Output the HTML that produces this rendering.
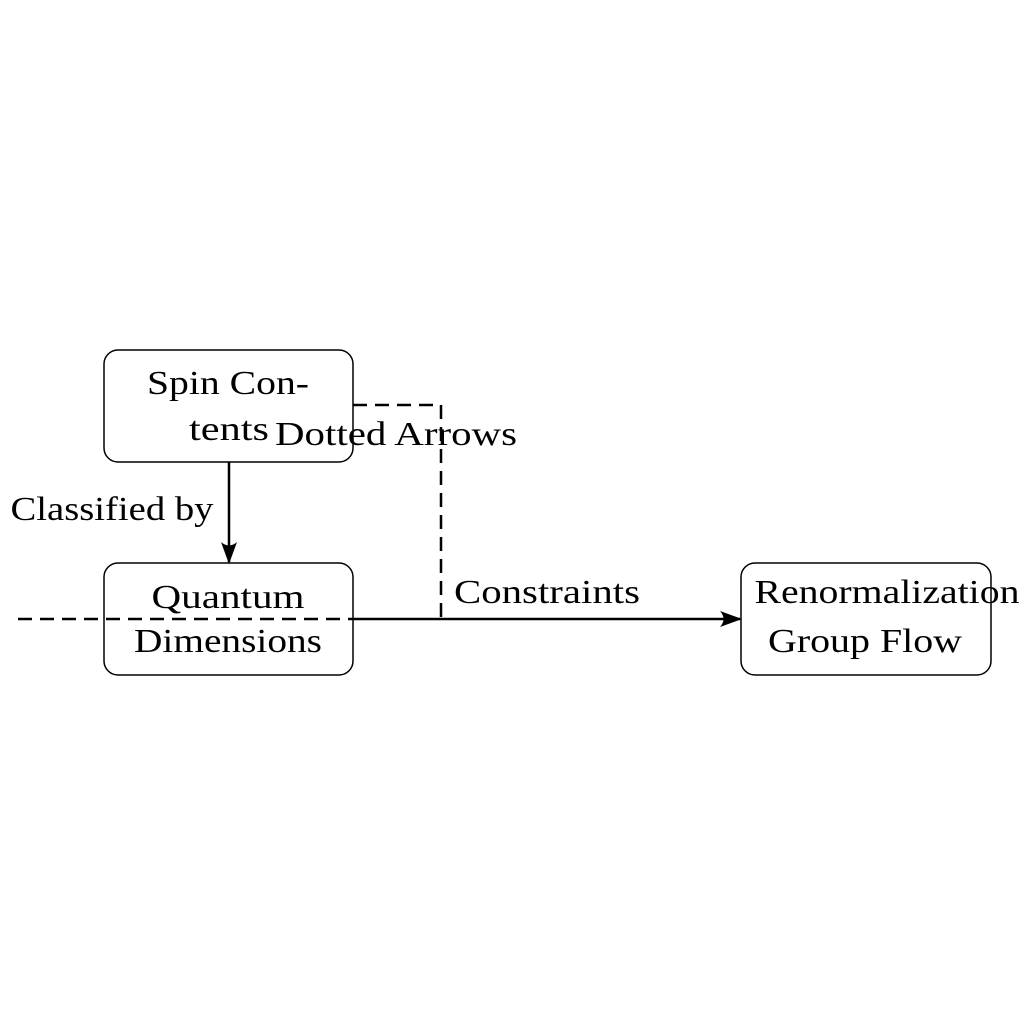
<!DOCTYPE html>
<html><head><meta charset="utf-8"><style>html,body{margin:0;padding:0;background:#fff}</style></head>
<body>
<svg width="1024" height="1024" viewBox="0 0 1024 1024" xmlns="http://www.w3.org/2000/svg" font-family="Liberation Serif, serif" font-size="34" fill="#000">
<defs>
<marker id="ah" viewBox="0 0 22 16" refX="20" refY="8" markerWidth="22" markerHeight="16" markerUnits="userSpaceOnUse" orient="auto">
<path d="M0,0 Q7,8 0,16 L22,8 Z" fill="#000"/>
</marker>
</defs>
<g fill="none" stroke="#000" stroke-width="1.5">
<rect x="104" y="350" width="249" height="112" rx="14"/>
<rect x="104" y="563" width="249" height="112" rx="14"/>
<rect x="741" y="563" width="250" height="112" rx="14"/>
</g>
<g fill="none" stroke="#000" stroke-width="2.5">
<line x1="229" y1="462" x2="229" y2="562" marker-end="url(#ah)"/>
<line x1="353" y1="619" x2="740" y2="619" marker-end="url(#ah)"/>
<line x1="18" y1="619" x2="353" y2="619" stroke-dasharray="14,8"/>
<polyline points="353,405 441,405 441,619" stroke-dasharray="14,8"/>
</g>
<g text-anchor="middle">
<text x="228" y="394" textLength="162" lengthAdjust="spacingAndGlyphs">Spin Con-</text>
<text x="229" y="440" textLength="80" lengthAdjust="spacingAndGlyphs">tents</text>
<text x="396" y="445" textLength="242" lengthAdjust="spacingAndGlyphs">Dotted Arrows</text>
<text x="112" y="520" textLength="203" lengthAdjust="spacingAndGlyphs">Classified by</text>
<text x="228" y="608" textLength="153" lengthAdjust="spacingAndGlyphs">Quantum</text>
<text x="228" y="652" textLength="188" lengthAdjust="spacingAndGlyphs">Dimensions</text>
<text x="547" y="603" textLength="186" lengthAdjust="spacingAndGlyphs">Constraints</text>
<text x="887" y="603" textLength="265" lengthAdjust="spacingAndGlyphs">Renormalization</text>
<text x="865" y="652" textLength="194" lengthAdjust="spacingAndGlyphs">Group Flow</text>
</g>
</svg>
</body></html>
